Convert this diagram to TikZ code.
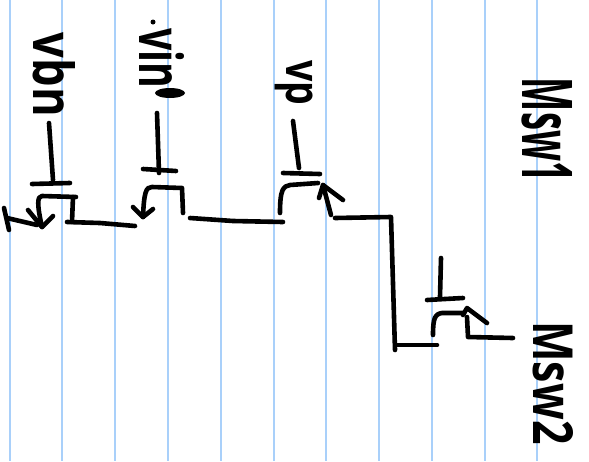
\documentclass[tikz,border=0pt]{standalone}
\usepackage{graphicx}
\usepackage{fontspec}
\setmainfont{Open Sans}
\definecolor{ruled}{HTML}{A9D0FA}
\tikzset{
  ink/.style={line width=4.6pt,line cap=round,line join=round,black},
  ruleline/.style={line width=2.2pt,ruled},
  hand/.style={rotate=-90,inner sep=0pt,outer sep=0pt,black,font=\bfseries}
}
\begin{document}
\begin{tikzpicture}[x=1pt,y=-1pt]
\useasboundingbox (0,0) rectangle (589,461);
\fill[white] (0,0) rectangle (589,461);
\foreach \gx in {10,62,115,168,221,274,326,379,432,485,537}
  \draw[ruleline] (\gx,0) -- (\gx,461);
% transistor 1
\draw[ink] (49,123) -- (53,180);
\draw[ink] (32,184) -- (70,183);
\draw[ink] (76,197) -- (42,196) .. controls (37,196) and (37,205) .. (42,227);
\draw[ink] (28,210) -- (42,227) -- (53,216);
\draw[ink] (73,197) -- (72,222);
\draw[ink] (67,222) -- (100,223) -- (135,226);
\draw[ink] (4,208) -- (9,230);
\draw[ink] (7,218) -- (37,225);
% transistor 2
\draw[ink] (157,113) -- (159,173);
\draw[ink] (143,169) -- (176,171);
\draw[ink] (183,213) -- (182,188) -- (152,187) .. controls (146,187) and (144,192) .. (143,217);
\draw[ink] (133,207) -- (143,217) -- (153,209);
\draw[ink] (190,218) -- (233,221) -- (283,222);
% transistor 3
\draw[ink] (293,121) -- (299,168);
\draw[ink] (283,173) -- (320,174);
\draw[ink] (318,183) -- (290,185) .. controls (283,186) and (280,190) .. (280,213);
\draw[ink] (331,215) -- (323,185);
\draw[ink] (319,198) -- (323,185) -- (343,200);
\draw[ink] (335,218) -- (391,217) -- (395,350);
\draw[ink] (398,345) -- (437,345);
% transistor 4
\draw[ink] (441,258) -- (440,297);
\draw[ink] (427,300) -- (463,298);
\draw[ink] (463,313) -- (442,313) .. controls (435,314) and (433,318) .. (433,335);
\draw[ink] (463,315) -- (467,308) -- (487,323);
\draw[ink] (467,317) -- (468,337) -- (513,338);
% marks on the vin label
\fill[black] (153,22) circle (2.5pt);
\fill[black] (170,93) ellipse (15pt and 5pt);
% labels
\node[hand] (vbn) at (54,75) {\resizebox{84pt}{42pt}{vbn}};
\node[hand] (vin) at (162,58) {\resizebox{60pt}{45pt}{vin}};
\node[hand] (vp) at (294,83) {\resizebox*{45pt}{38pt}{vp}};
\node[hand] (msw1) at (547,130) {\resizebox{104pt}{50pt}{Msw1}};
\node[hand] (msw2) at (553,383) {\resizebox{123pt}{40pt}{Msw2}};
\end{tikzpicture}
\end{document}
